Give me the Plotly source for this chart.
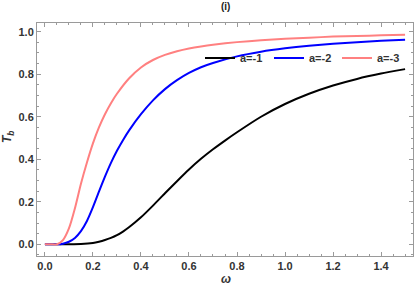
import plotly.graph_objects as go

omega_m3 = [0, 0.025, 0.05, 0.075, 0.1, 0.125, 0.15, 0.175, 0.2, 0.225, 0.25, 0.275, 0.3, 0.35, 0.4, 0.45,
            0.5, 0.55, 0.6, 0.65, 0.7, 0.8, 0.9, 1.0, 1.1, 1.2, 1.3, 1.4, 1.5]
t_m3 = [0, 0, 0.0, 0.02, 0.075, 0.17, 0.285, 0.385, 0.475, 0.55, 0.612, 0.664, 0.708, 0.78, 0.832, 0.867,
        0.891, 0.908, 0.921, 0.931, 0.939, 0.951, 0.96, 0.967, 0.972, 0.977, 0.98, 0.983, 0.986]

omega_m2 = [0, 0.05, 0.075, 0.1, 0.125, 0.15, 0.175, 0.2, 0.225, 0.25, 0.275, 0.3, 0.325, 0.35, 0.4, 0.45,
            0.5, 0.55, 0.6, 0.65, 0.7, 0.8, 0.9, 1.0, 1.1, 1.2, 1.3, 1.4, 1.5]
t_m2 = [0, 0, 0.003, 0.012, 0.03, 0.062, 0.11, 0.175, 0.248, 0.318, 0.383, 0.44, 0.49, 0.535, 0.612, 0.677,
        0.73, 0.772, 0.806, 0.833, 0.853, 0.884, 0.906, 0.922, 0.934, 0.943, 0.951, 0.957, 0.962]

omega_m1 = [0, 0.1, 0.15, 0.2, 0.225, 0.25, 0.275, 0.3, 0.325, 0.35, 0.4, 0.45, 0.5, 0.55, 0.6, 0.65, 0.7, 0.75, 0.8,
            0.9, 1.0, 1.1, 1.2, 1.3, 1.4, 1.5]
t_m1 = [0, 0, 0.001, 0.006, 0.012, 0.02, 0.03, 0.043, 0.06, 0.08, 0.127, 0.182, 0.24, 0.297, 0.352, 0.402, 0.447, 0.488, 0.527,
        0.6, 0.66, 0.708, 0.747, 0.778, 0.803, 0.824]

labels = ["a=-1", "a=-2", "a=-3"]
colors = ["#000000", "#0000FF", "#FF8080"]

x_ticks = [0.0, 0.2, 0.4, 0.6, 0.8, 1.0, 1.2, 1.4]
y_ticks = [0.0, 0.2, 0.4, 0.6, 0.8, 1.0]

FONT = "Arial, Liberation Sans, sans-serif"

fig = go.Figure()
legend_ids = ["legend", "legend2", "legend3"]
for xs, ys, lab, col, lg in zip([omega_m1, omega_m2, omega_m3], [t_m1, t_m2, t_m3], labels, colors, legend_ids):
    fig.add_trace(go.Scatter(x=xs, y=ys, mode="lines", name=lab, legend=lg,
                             line=dict(color=col, width=2, shape="spline", smoothing=0.6)))

axis_common = dict(
    showgrid=False, zeroline=False, showline=True, linecolor="#9a9a9a", linewidth=1,
    mirror="allticks", ticks="inside", ticklen=4, tickcolor="#9a9a9a", tickwidth=1,
    tickfont=dict(family=FONT, size=11, color="#333333", weight="bold"),
    minor=dict(ticks="inside", ticklen=2, tickcolor="#9a9a9a", tickwidth=1, dtick=0.05),
    automargin=False,
)

leg_font = dict(family=FONT, size=11, color="#333333", weight="bold")
leg_common = dict(y=(256 - 58) / 233, yanchor="middle", xanchor="left",
                  bgcolor="rgba(0,0,0,0)", font=leg_font, itemwidth=30, borderwidth=0)
legend_px = [200, 269, 337]

fig.update_layout(
    template="none",
    width=415, height=287,
    margin=dict(l=37, r=2, t=23, b=31, autoexpand=False),
    paper_bgcolor="white", plot_bgcolor="white",
    showlegend=True,
    legend=dict(x=(legend_px[0] - 37) / 376, **leg_common),
    legend2=dict(x=(legend_px[1] - 37) / 376, **leg_common),
    legend3=dict(x=(legend_px[2] - 37) / 376, **leg_common),
    xaxis=dict(range=[-0.033, 1.533], tickvals=x_ticks,
               ticktext=[f"{v:.1f}" for v in x_ticks], **axis_common),
    yaxis=dict(range=[-0.055, 1.041], tickvals=y_ticks,
               ticktext=[f"{v:.1f}" for v in y_ticks], **axis_common),
    annotations=[
        dict(text="(i)", xref="paper", yref="paper", x=(225 - 37) / 376, y=1 + 16 / 233,
             showarrow=False, font=dict(family=FONT, size=10, color="#222222", weight="bold"),
             xanchor="center", yanchor="middle"),
        dict(text="<i>ω</i>", xref="paper", yref="paper", x=(226 - 37) / 376, y=-(279 - 256) / 233,
             showarrow=False, font=dict(family=FONT, size=12, color="#333333", weight="bold"),
             xanchor="center", yanchor="middle"),
        dict(text="<i>T<sub>b</sub></i>", xref="paper", yref="paper", x=-(37 - 8) / 376,
             y=(256 - 137) / 233, textangle=-90,
             showarrow=False, font=dict(family=FONT, size=12, color="#333333", weight="bold"),
             xanchor="center", yanchor="middle"),
    ],
)

fig.write_html("out.html", config={"displayModeBar": False},
               post_script="document.body.style.margin='0';document.body.style.padding='0';")
